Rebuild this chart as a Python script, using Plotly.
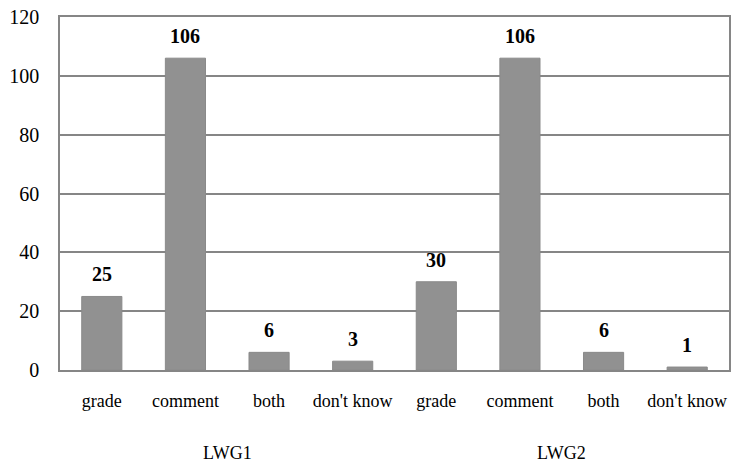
import plotly.graph_objects as go

groups = ["LWG1", "LWG2"]
categories = ["grade", "comment", "both", "don't know"]
values_lwg1 = [25, 106, 6, 3]
values_lwg2 = [30, 106, 6, 1]
y_ticks = [0, 20, 40, 60, 80, 100, 120]

values = values_lwg1 + values_lwg2
labels = categories + categories
xpos = list(range(len(values)))

font_family = "Liberation Serif, Times New Roman, serif"
grid_col = "#868686"

fig = go.Figure()
fig.add_trace(go.Bar(
    x=xpos, y=values,
    width=0.48,
    marker=dict(color="#919191", line=dict(width=1, color="#8a8a8a")),
    hoverinfo="skip",
))

for xi, v in zip(xpos, values):
    fig.add_annotation(
        x=xi, y=v, xref="x", yref="y", text=str(v), showarrow=False,
        yanchor="bottom", yshift=9,
        font=dict(family=font_family, size=20, color="#000000", weight="bold"),
    )

n = len(categories)
for gi, g in enumerate(groups):
    fig.add_annotation(
        x=gi * n + (n - 1) / 2, y=0, xref="x", yref="paper",
        text=g, showarrow=False, yanchor="middle", yshift=-83,
        font=dict(family=font_family, size=18, color="#000000"),
    )

fig.update_layout(
    width=735, height=465,
    margin=dict(l=60, r=6, t=17, b=95, autoexpand=False),
    plot_bgcolor="white", paper_bgcolor="white",
    showlegend=False,
    font=dict(family=font_family, color="#000000"),
)
fig.update_xaxes(
    tickvals=xpos, ticktext=labels,
    range=[-0.5, len(values) - 0.5],
    showline=True, linecolor=grid_col, linewidth=1.5, mirror=True,
    ticks="", showgrid=False, automargin=False,
    tickfont=dict(family=font_family, size=18, color="#000000"),
    ticklabelstandoff=14,
)
fig.update_yaxes(
    range=[0, 120], tickvals=y_ticks,
    showline=True, linecolor=grid_col, linewidth=1.5, mirror=True,
    showgrid=True, gridcolor=grid_col, gridwidth=1.5,
    ticks="", zeroline=False, automargin=False,
    tickfont=dict(family=font_family, size=20, color="#000000"),
    ticklabelstandoff=15,
)

fig.write_html(
    "out.html",
    config={"displayModeBar": False},
    post_script="document.body.style.margin='0';document.body.style.padding='0';",
)
